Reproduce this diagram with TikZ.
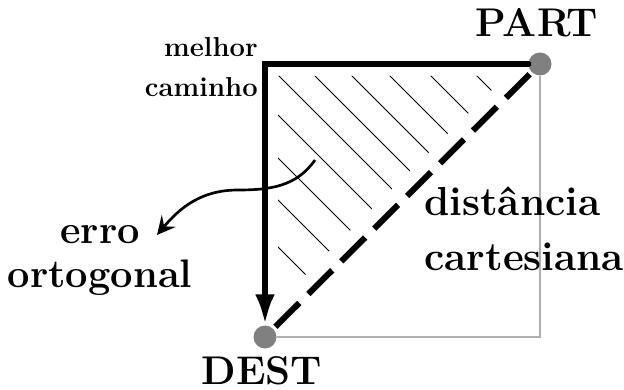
\documentclass[tikz,border=0pt]{standalone}
\usetikzlibrary{arrows.meta}
\definecolor{pontocinza}{RGB}{128,128,128}
\definecolor{linhacinza}{RGB}{175,175,175}

\begin{document}
\begin{tikzpicture}[
        x=0.025cm, y=0.025cm,
        ponto/.style={circle,fill=pontocinza,minimum size=0.575cm,inner sep=0pt},
        caminho/.style={line width=4.6pt,line cap=round,line join=miter,-{Latex[length=22pt,width=14pt]}},
        cartesiana/.style={line width=4.3pt,dash pattern=on 24pt off 9pt,shorten <=2pt,shorten >=2pt},
        hachura/.style={line width=0.7pt},
        seta/.style={line width=1.9pt,-{Stealth[length=13pt,width=13pt,inset=5pt]}},
        rotulo/.style={inner sep=0pt,align=center}
    ]
        \useasboundingbox (0,0) rectangle (624,389);
        \node[ponto] (part) at (540,325) {};
        \node[ponto] (dest) at (265,52) {};
        \coordinate (canto) at (265,325);

        % quadrado cinza
        \draw[linhacinza,line width=1pt] (dest) -| (part);

        % hachura do erro
        \begin{scope}
            \clip (278,313) -- (506,313) -- (278,87) -- cycle;
            \foreach \c in {31,78,120,163,203,239,276,314,355,401}
                \draw[hachura] (200,{189+\c}) -- (560,{\c-171});
        \end{scope}

        \draw[cartesiana] (dest) -- (part);
        \draw[caminho] (part) -- (canto) -- (dest);

        % seta curva
        \coordinate (erroini) at (315,229);
        \coordinate (erromeio) at (238,199);
        \coordinate (errofim) at (157,154);
        \draw[seta] (erroini) to[out=235,in=0] (erromeio) to[out=180,in=50] (errofim);

        \node[rotulo,anchor=base,font=\fontsize{28.5}{32}\selectfont\bfseries] (txtpart) at (537,352) {PART};
        \node[rotulo,anchor=base,font=\fontsize{28.5}{32}\selectfont\bfseries] (txtdest) at (262,5) {DEST};
        \node[rotulo,align=right,anchor=base east,font=\fontsize{19.5}{28.5}\selectfont\bfseries] (txtmelhor) at (258,292) {melhor\\caminho};
        \node[rotulo,align=left,anchor=base west,font=\fontsize{28.8}{39}\selectfont\bfseries] (txtdist) at (424,119) {distância\\cartesiana};
        \node[rotulo,anchor=base,font=\fontsize{28.3}{31}\selectfont\bfseries] (txterro) at (100,102) {erro\\ortogonal};
    \end{tikzpicture}
\end{document}
